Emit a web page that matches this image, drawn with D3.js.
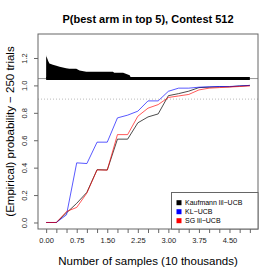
<!DOCTYPE html>
<html>
<head>
<meta charset="utf-8">
<script src="https://cdn.jsdelivr.net/npm/d3@7"></script>
<style>
  body { margin: 0; background: #fff; }
  svg text { font-family: "Liberation Sans", Arial, Helvetica, sans-serif; fill: #000; }
</style>
</head>
<body>
<svg width="277" height="277"></svg>
<script>
// number of samples (10 thousands)
var samples = [0, 0.25, 0.5, 0.75, 1.0, 1.25, 1.5, 1.75, 2.0, 2.25, 2.5,
               2.75, 3.0, 3.25, 3.5, 3.75, 4.0, 4.25, 4.5, 4.75, 5.0];
var kaufmann = [0, 0, 0.07, 0.14, 0.22, 0.385, 0.383, 0.608, 0.608, 0.727, 0.770,
                0.792, 0.925, 0.940, 0.958, 0.984, 0.987, 0.990, 0.990, 0.996, 1.0];
var klucb = [0, 0, 0.056, 0.435, 0.43, 0.586, 0.586, 0.763, 0.783, 0.812, 0.887,
             0.887, 0.957, 0.980, 0.980, 0.987, 0.990, 0.992, 0.992, 0.996, 1.0];
var sglil = [0, 0, 0.08, 0.11, 0.215, 0.384, 0.382, 0.641, 0.641, 0.775, 0.834,
             0.860, 0.912, 0.923, 0.934, 0.967, 0.980, 0.984, 0.988, 0.992, 0.996];

// black profile drawn above the 1.05 line
var profileX = [0, 0.005, 0.025, 0.05, 0.08, 0.165, 0.25, 0.33, 0.49, 0.57, 0.74,
                0.82, 0.985, 1.64, 1.67, 1.89, 1.97, 2.05, 2.09];
var profileTop = [1.222, 1.21, 1.198, 1.178, 1.16, 1.15, 1.144, 1.137, 1.125, 1.121, 1.121,
                  1.108, 1.10, 1.10, 1.093, 1.093, 1.084, 1.075, 1.05];
var baseLevel = 1.05;
var targetLevel = 0.9;

var yTicks = [0, 0.2, 0.4, 0.6, 0.8, 1.0, 1.2];
var xTicks = [0, 0.25, 0.5, 0.75, 1.0, 1.25, 1.5, 1.75, 2.0, 2.25, 2.5,
              2.75, 3.0, 3.25, 3.5, 3.75, 4.0, 4.25, 4.5, 4.75, 5.0];
var xLabelled = [0, 0.75, 1.5, 2.25, 3.0, 3.75, 4.5];

var legendNames = ["Kaufmann lil\u2212UCB", "KL\u2212UCB", "SG lil\u2212UCB"];
var legendColors = ["#000", "#0000ff", "#ff0000"];

var svg = d3.select("svg");
var plotLeft = 38, plotRight = 258, plotTop = 34, plotBottom = 229;

var x = d3.scaleLinear().domain([-0.2, 5.2]).range([plotLeft, plotRight]);
var y = d3.scaleLinear().domain([-0.0475, 1.375]).range([plotBottom, plotTop]);

// reference lines
svg.append("line")
  .attr("x1", plotLeft).attr("x2", plotRight)
  .attr("y1", y(baseLevel)).attr("y2", y(baseLevel))
  .style("stroke", "#999").style("stroke-width", 1);
svg.append("line")
  .attr("x1", plotLeft).attr("x2", plotRight)
  .attr("y1", y(targetLevel)).attr("y2", y(targetLevel))
  .style("stroke", "#aaa").style("stroke-width", 0.8)
  .style("stroke-dasharray", "1,2");

// black profile
var area = d3.area()
  .x(function(d, i) { return x(profileX[i]); })
  .y0(y(baseLevel))
  .y1(function(d) { return y(d); });
svg.append("path").datum(profileTop)
  .attr("d", area)
  .style("fill", "#000");
svg.append("line")
  .attr("x1", x(0)).attr("x2", x(5.0))
  .attr("y1", y(baseLevel)).attr("y2", y(baseLevel))
  .style("stroke", "#000").style("stroke-width", 3);

// series lines
var line = d3.line()
  .x(function(d, i) { return x(samples[i]); })
  .y(function(d) { return y(d); });
var series = [
  { v: kaufmann, c: "rgba(0,0,0,0.7)" },
  { v: klucb, c: "rgba(0,0,255,0.65)" },
  { v: sglil, c: "rgba(255,0,0,0.65)" }
];
series.forEach(function(s) {
  svg.append("path").datum(s.v)
    .attr("d", line)
    .style("fill", "none")
    .style("stroke", s.c)
    .style("stroke-width", 1);
});

// box
svg.append("rect")
  .attr("x", plotLeft).attr("y", plotTop)
  .attr("width", plotRight - plotLeft).attr("height", plotBottom - plotTop)
  .style("fill", "none").style("stroke", "#666").style("stroke-width", 1);

// axes
var xAxis = d3.axisBottom(x).tickValues(xTicks).tickSizeOuter(0).tickSize(4).tickPadding(5)
  .tickFormat(function(d) {
    return xLabelled.some(function(v) { return Math.abs(v - d) < 1e-9; }) ? d3.format(".2f")(d) : "";
  });
var gx = svg.append("g").attr("transform", "translate(0," + plotBottom + ")").call(xAxis);
gx.select("path.domain").remove();
gx.selectAll("line").style("stroke", "#666");
gx.selectAll("text").style("font-size", "7.5px").style("fill", "#222");

var yAxis = d3.axisLeft(y).tickValues(yTicks).tickSizeOuter(0).tickSize(4)
  .tickFormat(d3.format(".1f"));
var gy = svg.append("g").attr("transform", "translate(" + plotLeft + ",0)").call(yAxis);
gy.select("path.domain").remove();
gy.selectAll("line").style("stroke", "#666");
gy.selectAll("text")
  .attr("x", null).attr("dy", null)
  .attr("transform", "translate(-14,0) rotate(-90)")
  .attr("text-anchor", "middle")
  .attr("dominant-baseline", "central")
  .style("font-size", "7.5px").style("fill", "#222");

// titles
svg.append("text")
  .attr("x", 148).attr("y", 23)
  .attr("text-anchor", "middle")
  .style("font-size", "11px").style("font-weight", "bold")
  .text("P(best arm in top 5), Contest 512");
svg.append("text")
  .attr("x", 148).attr("y", 265)
  .attr("text-anchor", "middle")
  .style("font-size", "11.5px")
  .text("Number of samples (10 thousands)");
svg.append("text")
  .attr("transform", "translate(14," + ((plotTop + plotBottom) / 2) + ") rotate(-90)")
  .attr("text-anchor", "middle")
  .style("font-size", "11.5px")
  .text("(Empirical) probability \u2212 250 trials");

// legend
var lg = svg.append("g");
lg.append("rect")
  .attr("x", 171.5).attr("y", 192.5)
  .attr("width", plotRight - 171.5).attr("height", plotBottom - 192.5)
  .style("fill", "#fff").style("stroke", "#666").style("stroke-width", 1);
legendNames.forEach(function(name, i) {
  var cy = 202.7 + i * 9;
  lg.append("rect")
    .attr("x", 176.5).attr("y", cy - 2.5)
    .attr("width", 5).attr("height", 5)
    .style("fill", legendColors[i]);
  lg.append("text")
    .attr("x", 185).attr("y", cy)
    .attr("dominant-baseline", "central")
    .style("font-size", "7px")
    .text(name);
});
</script>
</body>
</html>
